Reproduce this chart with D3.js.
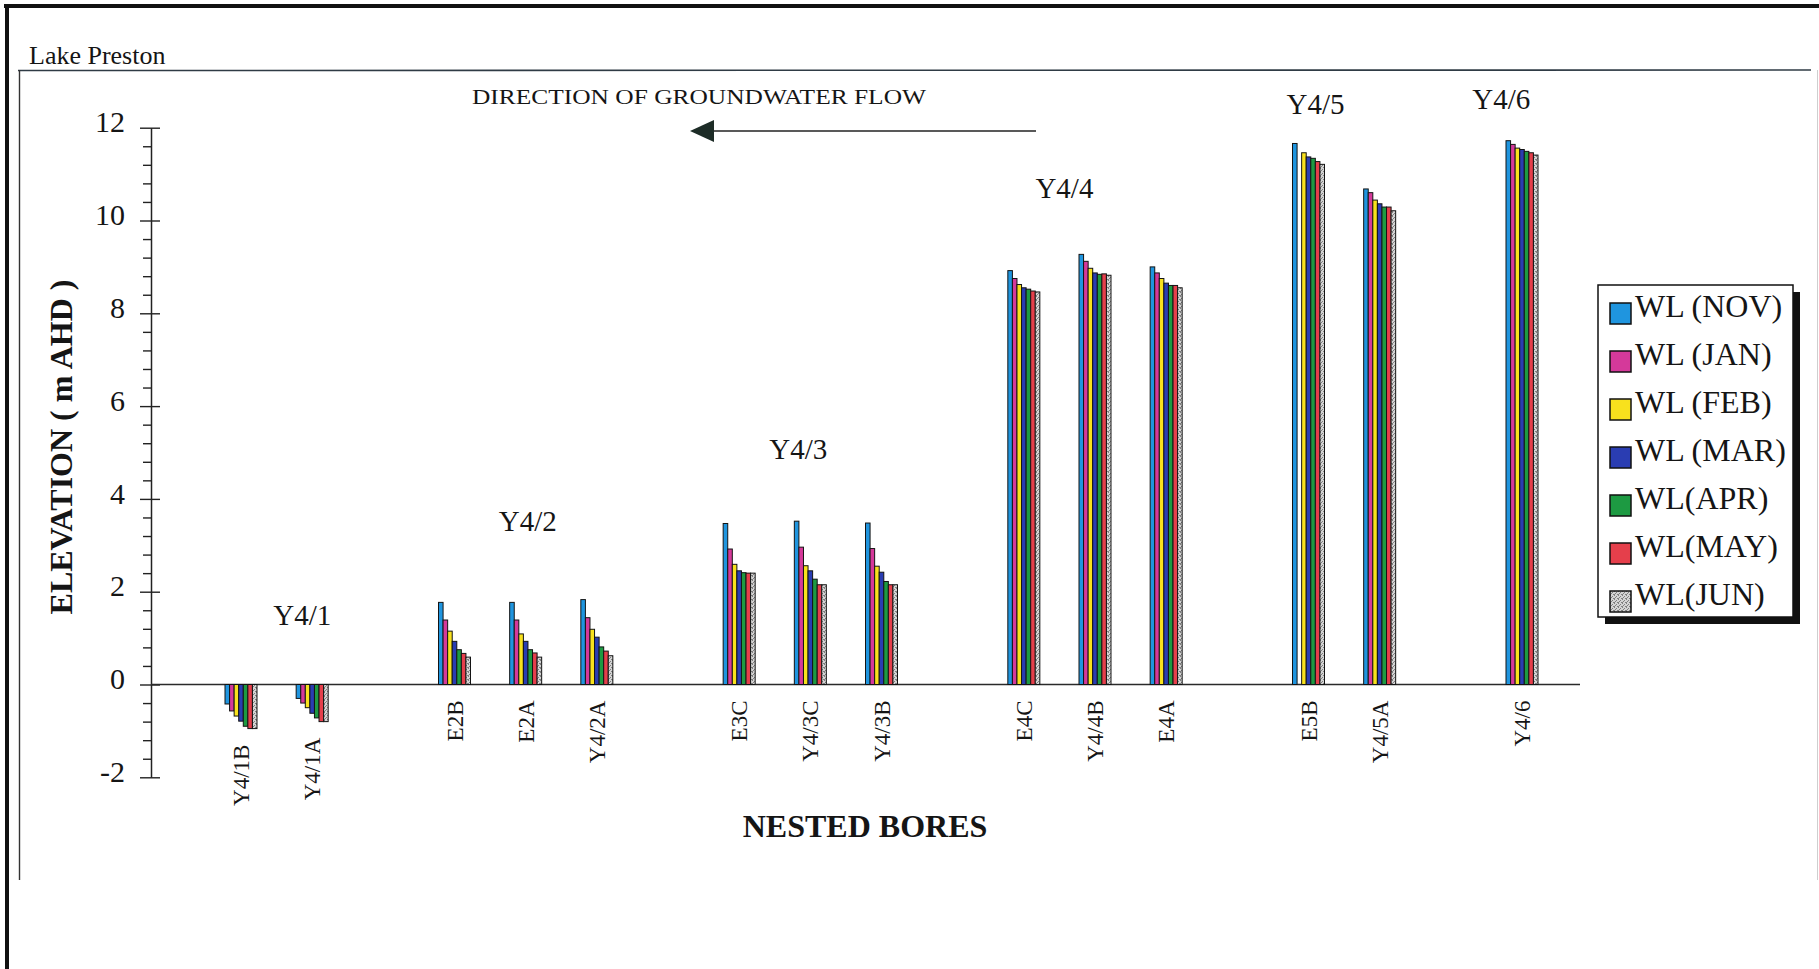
<!DOCTYPE html>
<html>
<head>
<meta charset="utf-8">
<title>Lake Preston – nested bore water levels</title>
<script src="https://cdn.jsdelivr.net/npm/d3@7"></script>
<style>
  html, body { margin: 0; padding: 0; background: #fff; }
  svg { display: block; }
  text { font-family: "Liberation Serif", "Times New Roman", serif; fill: #151515; }
</style>
</head>
<body>
<svg id="chart" width="1819" height="969"></svg>
<script>
// ---- data ---------------------------------------------------------------
const seriesNames = ["WL (NOV)", "WL (JAN)", "WL (FEB)", "WL (MAR)", "WL(APR)", "WL(MAY)", "WL(JUN)"];
const nests = ["Y4/1", "Y4/2", "Y4/3", "Y4/4", "Y4/5", "Y4/6"];
const bores = ["Y4/1B", "Y4/1A", "E2B", "E2A", "Y4/2A", "E3C", "Y4/3C", "Y4/3B",
               "E4C", "Y4/4B", "E4A", "E5B", "Y4/5A", "Y4/6"];
const boreNest = ["Y4/1", "Y4/1", "Y4/2", "Y4/2", "Y4/2", "Y4/3", "Y4/3", "Y4/3",
                  "Y4/4", "Y4/4", "Y4/4", "Y4/5", "Y4/5", "Y4/6"];

// water level (m AHD) per bore, one array per survey month
const wlNov = [-0.42, -0.30, 1.77, 1.77, 1.83, 3.47, 3.52, 3.48, 8.92, 9.27, 9.00, 11.66, 10.68, 11.72];
const wlJan = [-0.57, -0.40, 1.39, 1.39, 1.44, 2.92, 2.96, 2.93, 8.75, 9.12, 8.87, null, 10.60, 11.64];
const wlFeb = [-0.68, -0.50, 1.15, 1.09, 1.19, 2.59, 2.56, 2.55, 8.62, 8.97, 8.75, 11.46, 10.44, 11.56];
const wlMar = [-0.79, -0.62, 0.93, 0.93, 1.02, 2.45, 2.45, 2.42, 8.55, 8.87, 8.65, 11.37, 10.36, 11.53];
const wlApr = [-0.90, -0.72, 0.75, 0.75, 0.81, 2.41, 2.27, 2.22, 8.52, 8.84, 8.60, 11.34, 10.29, 11.49];
const wlMay = [-0.95, -0.80, 0.67, 0.68, 0.72, 2.40, 2.15, 2.15, 8.48, 8.85, 8.60, 11.27, 10.29, 11.46];
const wlJun = [-0.95, -0.80, 0.59, 0.59, 0.62, 2.40, 2.15, 2.15, 8.46, 8.82, 8.55, 11.21, 10.21, 11.41];

const yMajorTicks = [-2, 0, 2, 4, 6, 8, 10, 12];

// ---- styling / layout ----------------------------------------------------
const seriesValues = [wlNov, wlJan, wlFeb, wlMar, wlApr, wlMay, wlJun];
const seriesFill = ["#1f95df", "#d5399a", "#f8e11d", "#2a3db2", "#1d9a42", "#e53f4b", "url(#stipple)"];

// nest captions: [slot position, elevation] where each caption sits
const nestCaptionAt = [[0.86, 1.28], [4.03, 3.31], [7.83, 4.86], [11.57, 10.48], [15.10, 12.30], [17.71, 12.40]];

const svg = d3.select("#chart");
const W = 1819, H = 969;

// stippled grey fill used for June
const defs = svg.append("defs");
const pat = defs.append("pattern").attr("id", "stipple")
  .attr("width", 4).attr("height", 4).attr("patternUnits", "userSpaceOnUse");
pat.append("rect").attr("width", 4).attr("height", 4).attr("fill", "#d4d4d4");
[[0, 0], [2, 1], [1, 2], [3, 3], [0, 3]].forEach(([a, b]) =>
  pat.append("rect").attr("x", a).attr("y", b).attr("width", 1).attr("height", 1).attr("fill", "#808080"));

// page frame
svg.append("line").attr("x1", 4).attr("x2", W).attr("y1", 6).attr("y2", 6)
  .attr("stroke", "#111").attr("stroke-width", 4);
svg.append("line").attr("x1", 7).attr("x2", 7).attr("y1", 4).attr("y2", H)
  .attr("stroke", "#111").attr("stroke-width", 4);
svg.append("line").attr("x1", 18).attr("x2", 1811).attr("y1", 70.5).attr("y2", 70)
  .attr("stroke", "#2f3b45").attr("stroke-width", 1.6);
svg.append("line").attr("x1", 19.5).attr("x2", 19.5).attr("y1", 70).attr("y2", 880)
  .attr("stroke", "#333").attr("stroke-width", 1.4);
svg.append("line").attr("x1", 1817.5).attr("x2", 1817.5).attr("y1", 70).attr("y2", 880)
  .attr("stroke", "#cfcfcf").attr("stroke-width", 1);

svg.append("text").attr("x", 29).attr("y", 64).attr("font-size", 26).text("Lake Preston");

// ---- scales -------------------------------------------------------------
const axisLeftX = 151, axisRightX = 1580;
const y = d3.scaleLinear().domain([-2, 12]).range([777.3, 127.7]);

// bores of a nest sit in adjacent slots, nests are separated by one empty slot
const slotOf = [];
{
  let s = 0;
  bores.forEach((b, i) => {
    if (i > 0 && boreNest[i] !== boreNest[i - 1]) s += 1;
    slotOf.push(s);
    s += 1;
  });
}
const nSlots = d3.max(slotOf);
const x = d3.scaleLinear().domain([0, nSlots]).range([241, 1522]);
const inner = d3.scaleBand().domain(seriesNames).range([-16, 16]).padding(0);

// ---- y axis -------------------------------------------------------------
const minorTicks = d3.range(-2, 12.001, 0.4).map(v => +v.toFixed(1)).filter(v => !yMajorTicks.includes(v));
svg.append("g").attr("transform", `translate(${axisLeftX},0)`)
  .call(d3.axisLeft(y).tickValues(minorTicks).tickSize(8).tickFormat(""))
  .call(g => g.select(".domain").remove())
  .call(g => g.selectAll("line").attr("stroke", "#222").attr("stroke-width", 1.4));

const yAxis = svg.append("g").attr("transform", `translate(${axisLeftX},0)`)
  .call(d3.axisLeft(y).tickValues(yMajorTicks).tickSizeInner(11).tickSizeOuter(0).tickPadding(15)
        .tickFormat(d => String(d)));
yAxis.select(".domain").attr("stroke", "#222").attr("stroke-width", 1.5);
yAxis.selectAll(".tick line").attr("x2", -11).attr("x1", 9).attr("stroke", "#222").attr("stroke-width", 1.4);
yAxis.selectAll(".tick text")
  .attr("font-family", "'Liberation Serif', 'Times New Roman', serif")
  .attr("font-size", 30).attr("fill", "#151515").attr("dy", "0.14em");

svg.append("text")
  .attr("transform", `translate(72,447) rotate(-90)`)
  .attr("text-anchor", "middle").attr("font-size", 32).attr("font-weight", "bold")
  .text("ELEVATION ( m AHD )");

// zero line
svg.append("line").attr("x1", axisLeftX).attr("x2", axisRightX)
  .attr("y1", y(0)).attr("y2", y(0)).attr("stroke", "#2a2a2a").attr("stroke-width", 1.5);

// ---- bars ---------------------------------------------------------------
const barData = [];
bores.forEach((b, i) => {
  seriesNames.forEach((s, k) => {
    const v = seriesValues[k][i];
    if (v !== null) barData.push({ bore: b, i, series: s, k, v });
  });
});

svg.append("g").selectAll("rect").data(barData).join("rect")
  .attr("x", d => x(slotOf[d.i]) + inner(d.series))
  .attr("width", inner.bandwidth())
  .attr("y", d => y(Math.max(0, d.v)))
  .attr("height", d => Math.abs(y(d.v) - y(0)))
  .attr("fill", d => seriesFill[d.k])
  .attr("stroke", "#141414").attr("stroke-width", 1);

// bore names, below the axis or below the deepest bar
svg.append("g").selectAll("text").data(bores).join("text")
  .attr("transform", (b, i) => {
    const lows = seriesValues.map(a => a[i]).filter(v => v !== null);
    const top = y(Math.min(0, d3.min(lows))) + 16;
    return `translate(${x(slotOf[i]) + 8},${top}) rotate(-90)`;
  })
  .attr("text-anchor", "end").attr("font-size", 23)
  .text(b => b);

// nest captions
svg.append("g").selectAll("text").data(nests).join("text")
  .attr("x", (n, j) => x(nestCaptionAt[j][0]))
  .attr("y", (n, j) => y(nestCaptionAt[j][1]))
  .attr("text-anchor", "middle").attr("font-size", 29)
  .text(n => n);

// x-axis title
svg.append("text").attr("x", 865).attr("y", 837).attr("text-anchor", "middle")
  .attr("font-size", 32).attr("font-weight", "bold").text("NESTED BORES");

// flow direction note and arrow
svg.append("text").attr("x", 472).attr("y", 104).attr("font-size", 22)
  .attr("textLength", 454).attr("lengthAdjust", "spacingAndGlyphs")
  .text("DIRECTION OF GROUNDWATER FLOW");
svg.append("line").attr("x1", 712).attr("x2", 1036).attr("y1", 131).attr("y2", 131)
  .attr("stroke", "#222").attr("stroke-width", 1.7);
svg.append("path").attr("d", "M690,131 L714,120 L714,142 Z").attr("fill", "#1d2c27");

// ---- legend -------------------------------------------------------------
const lg = { x: 1598, y: 285, w: 195, h: 332 };
svg.append("rect").attr("x", lg.x + 7).attr("y", lg.y + 7).attr("width", lg.w).attr("height", lg.h)
  .attr("fill", "#111");
svg.append("rect").attr("x", lg.x).attr("y", lg.y).attr("width", lg.w).attr("height", lg.h)
  .attr("fill", "#fff").attr("stroke", "#111").attr("stroke-width", 1.5);
const item = svg.append("g").selectAll("g").data(seriesNames).join("g")
  .attr("transform", (d, k) => `translate(${lg.x + 12},${lg.y + 18 + k * 48})`);
item.append("rect").attr("width", 21).attr("height", 21)
  .attr("fill", (d, k) => seriesFill[k]).attr("stroke", "#111").attr("stroke-width", 1.5);
item.append("text").attr("x", 25).attr("y", 14).attr("font-size", 32).text(d => d);
</script>
</body>
</html>
